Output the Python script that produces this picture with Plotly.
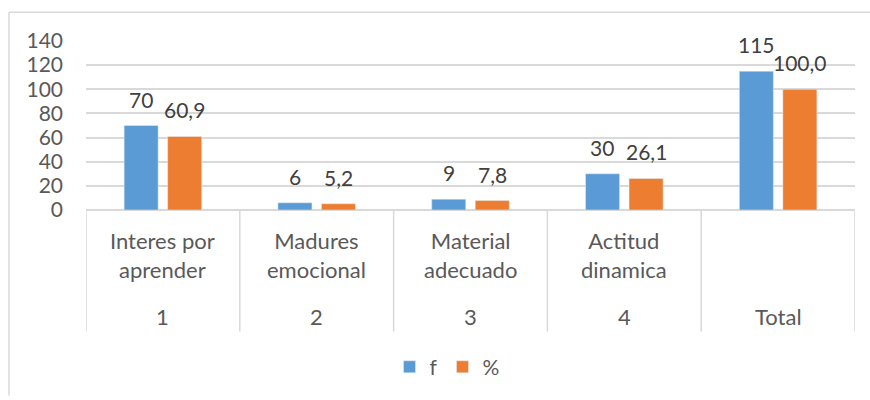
import plotly.graph_objects as go

categorias = ["Interes por<br>aprender", "Madures<br>emocional", "Material<br>adecuado", "Actitud<br>dinamica", ""]
numeros = ["1", "2", "3", "4", "Total"]
f_vals = [70, 6, 9, 30, 115]
pct_vals = [60.9, 5.2, 7.8, 26.1, 100.0]
y_ticks = [0, 20, 40, 60, 80, 100, 120, 140]

W, H = 870, 400
L, R, T, B = 86, 15, 41, 188
pw, ph = W - L - R, H - T - B

# pixel -> paper helpers
def px(x):
    return (x - L) / pw

def py(y):
    return (H - B - y) / ph

FONT = "Lato"
x = list(range(len(numeros)))

fig = go.Figure()
fig.add_trace(go.Bar(x=x, y=f_vals, name="f", marker_color="#5B9BD5"))
fig.add_trace(go.Bar(x=x, y=pct_vals, name="%", marker_color="#ED7D31"))

# data labels above bars
for i in x:
    fig.add_annotation(x=i, y=f_vals[i], text=str(f_vals[i]), xshift=-22, yshift=12,
                       yanchor="bottom", showarrow=False,
                       font=dict(family=FONT, size=21, color="#404040"))
    fig.add_annotation(x=i, y=pct_vals[i], text=f"{pct_vals[i]:.1f}".replace(".", ","),
                       xshift=22, yshift=12, yanchor="bottom", showarrow=False,
                       font=dict(family=FONT, size=21, color="#404040"))

# multi-level category axis
for i in x:
    fig.add_annotation(x=i, y=py(258), yref="paper", text=categorias[i], showarrow=False,
                       yanchor="middle", font=dict(family=FONT, size=22, color="#595959"))
    fig.add_annotation(x=i, y=py(320), yref="paper", text=numeros[i], showarrow=False,
                       yanchor="middle", font=dict(family=FONT, size=22, color="#595959"))
for i in range(len(numeros) + 1):
    fig.add_shape(type="line", x0=i - 0.5, x1=i - 0.5, y0=0, y1=py(335), yref="paper",
                  line=dict(color="#d9d9d9", width=1.5))

# chart border: only the left and top edges show in the picture
fig.add_shape(type="line", xref="paper", yref="paper", x0=px(9), x1=px(870), y0=py(12), y1=py(12),
              line=dict(color="#d9d9d9", width=1.5))
fig.add_shape(type="line", xref="paper", yref="paper", x0=px(9), x1=px(9), y0=py(12), y1=py(400),
              line=dict(color="#d9d9d9", width=1.5))

fig.update_layout(
    width=W, height=H,
    margin=dict(l=L, r=R, t=T, b=B),
    plot_bgcolor="white", paper_bgcolor="white",
    barmode="group", bargap=0.434, bargroupgap=0.218,
    font=dict(family=FONT, size=21, color="#595959"),
    showlegend=True,
    legend=dict(orientation="h", x=px(447), xanchor="center", y=py(371), yanchor="middle",
                font=dict(family=FONT, size=21, color="#595959"), itemwidth=30),
)
fig.update_xaxes(range=[-0.5, 4.5], showticklabels=False, showgrid=False, zeroline=False,
                 showline=False)
fig.update_yaxes(range=[0, 140], tickvals=y_ticks, showgrid=True, gridcolor="#d9d9d9", gridwidth=1.5,
                 zeroline=True, zerolinecolor="#d9d9d9", zerolinewidth=1.5,
                 ticklabelstandoff=22, tickfont=dict(family=FONT, size=21, color="#595959"))

fig.write_html("out.html", config={"displayModeBar": False},
               post_script="document.body.style.margin='0';")
